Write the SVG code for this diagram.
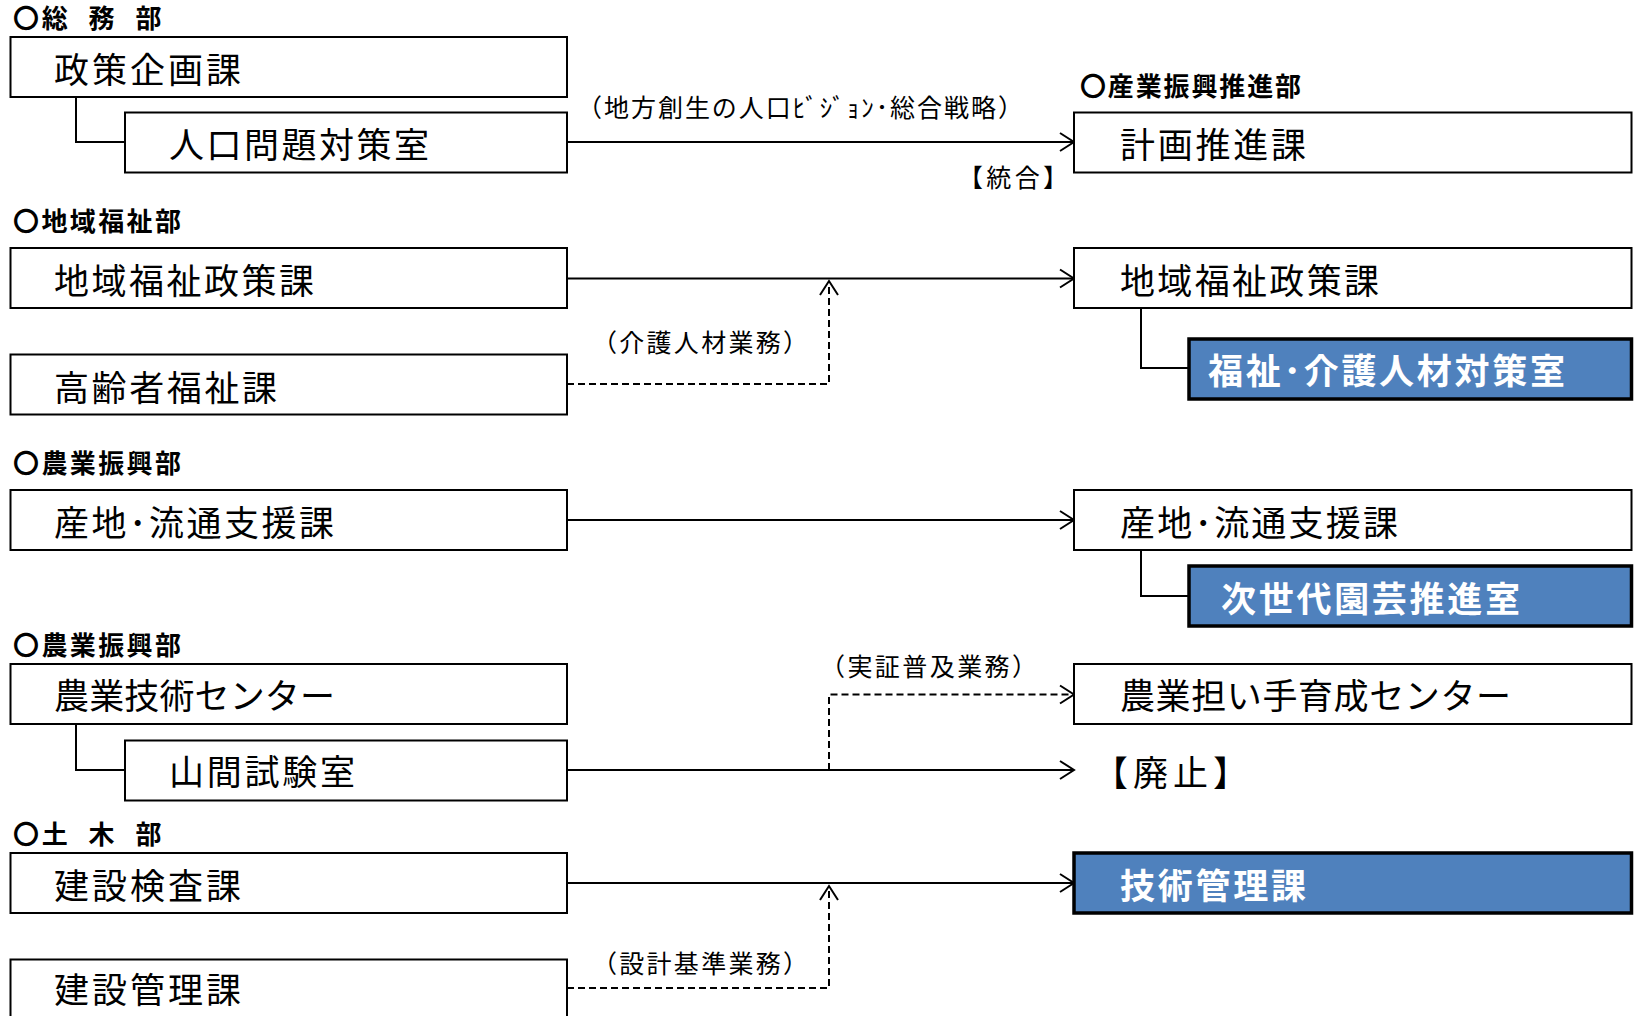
<svg xmlns="http://www.w3.org/2000/svg" width="1635" height="1016" viewBox="0 0 1635 1016">
<style>
.box{fill:#fff;stroke:#000;stroke-width:2}
.blue{fill:#4F81BD;stroke:#000;stroke-width:3.5}
.t{font-family:"Noto Sans CJK JP","Liberation Sans",sans-serif;font-size:35px;fill:#000;dominant-baseline:central}
.tw{font-family:"Noto Sans CJK JP","Liberation Sans",sans-serif;font-size:35px;font-weight:bold;fill:#fff;dominant-baseline:central}
.h{font-family:"Noto Sans CJK JP","Liberation Sans",sans-serif;font-size:26px;font-weight:bold;fill:#000;dominant-baseline:central}
.l{font-family:"Noto Sans CJK JP","Liberation Sans",sans-serif;font-size:25px;fill:#000;dominant-baseline:central}
.c{fill:none;stroke:#000;stroke-width:2}
.d{fill:none;stroke:#000;stroke-width:2;stroke-dasharray:7 4}
</style>
<defs>
<marker id="arr" markerUnits="userSpaceOnUse" markerWidth="20" markerHeight="24" refX="17" refY="12" orient="auto">
<path d="M3,3 L17,12 L3,21" fill="none" stroke="#000" stroke-width="2"/>
</marker>
</defs>

<g id="headers">
<text class="h" x="13 41.7 88.6 135.5" y="16">〇総務部</text>
<text class="h" x="1080" y="84" textLength="221">〇産業振興推進部</text>
<text class="h" x="13" y="219" textLength="168">〇地域福祉部</text>
<text class="h" x="13" y="461" textLength="168">〇農業振興部</text>
<text class="h" x="13" y="643" textLength="168">〇農業振興部</text>
<text class="h" x="13 41.7 88.6 135.5" y="832">〇土木部</text>
</g>

<g id="connectors">
<polyline class="c" points="76,97 76,142 125,142"/>
<line class="c" x1="567" y1="142" x2="1074" y2="142" marker-end="url(#arr)"/>
<line class="c" x1="567" y1="278.5" x2="1074" y2="278.5" marker-end="url(#arr)"/>
<polyline class="d" points="567,384 829,384 829,281" marker-end="url(#arr)"/>
<polyline class="c" points="1141,308 1141,368 1189,368"/>
<line class="c" x1="567" y1="520" x2="1074" y2="520" marker-end="url(#arr)"/>
<polyline class="c" points="1141,550 1141,596 1189,596"/>
<polyline class="c" points="76,724 76,770 125,770"/>
<line class="c" x1="567" y1="770" x2="1074" y2="770" marker-end="url(#arr)"/>
<polyline class="d" points="829,770 829,694.5 1074,694.5" marker-end="url(#arr)"/>
<line class="c" x1="567" y1="883" x2="1074" y2="883" marker-end="url(#arr)"/>
<polyline class="d" points="567,988 829,988 829,886" marker-end="url(#arr)"/>
<text class="l" x="577" y="106" textLength="446">（地方創生の人口ﾋﾞｼﾞｮﾝ･総合戦略）</text>
<text class="l" x="958" y="176" textLength="110">【統合】</text>
<text class="l" x="592" y="341" textLength="216">（介護人材業務）</text>
<text class="l" x="820" y="665" textLength="217">（実証普及業務）</text>
<text class="l" x="592" y="962" textLength="216">（設計基準業務）</text>
</g>

<g id="n-seisaku"><rect class="box" x="10.5" y="37" width="556.5" height="60"/><text class="t" x="54" y="67" textLength="187">政策企画課</text></g>
<g id="n-jinko"><rect class="box" x="125" y="112.5" width="442" height="60"/><text class="t" x="169" y="142" textLength="260">人口問題対策室</text></g>
<g id="n-keikaku"><rect class="box" x="1074" y="112.5" width="557.5" height="60"/><text class="t" x="1120" y="142" textLength="186">計画推進課</text></g>

<g id="n-chiiki-l"><rect class="box" x="10.5" y="248" width="556.5" height="60"/><text class="t" x="54" y="278" textLength="260">地域福祉政策課</text></g>
<g id="n-korei"><rect class="box" x="10.5" y="354.5" width="556.5" height="60"/><text class="t" x="54" y="385" textLength="223">高齢者福祉課</text></g>
<g id="n-chiiki-r"><rect class="box" x="1074" y="248" width="557.5" height="60"/><text class="t" x="1120" y="278" textLength="259">地域福祉政策課</text></g>
<g id="n-fukushi"><rect class="blue" x="1189" y="339" width="442.5" height="60"/><text class="tw" x="1208" y="368" textLength="357">福祉･介護人材対策室</text></g>

<g id="n-sanchi-l"><rect class="box" x="10.5" y="490" width="556.5" height="60"/><text class="t" x="54" y="520" textLength="280">産地･流通支援課</text></g>
<g id="n-sanchi-r"><rect class="box" x="1074" y="490" width="557.5" height="60"/><text class="t" x="1120" y="520" textLength="278">産地･流通支援課</text></g>
<g id="n-jisedai"><rect class="blue" x="1189" y="566" width="442.5" height="60"/><text class="tw" x="1221" y="596" textLength="299">次世代園芸推進室</text></g>

<g id="n-nogyo"><rect class="box" x="10.5" y="664" width="556.5" height="60"/><text class="t" x="54" y="693" textLength="281">農業技術センター</text></g>
<g id="n-sankan"><rect class="box" x="125" y="740.5" width="442" height="60"/><text class="t" x="169" y="769" textLength="186">山間試験室</text></g>
<g id="n-ninaite"><rect class="box" x="1074" y="664" width="557.5" height="60"/><text class="t" x="1120" y="693" textLength="391">農業担い手育成センター</text></g>
<g id="n-haishi"><text class="t" x="1093" y="770" textLength="155">【廃止】</text></g>

<g id="n-kensa"><rect class="box" x="10.5" y="853" width="556.5" height="60"/><text class="t" x="54" y="883" textLength="187">建設検査課</text></g>
<g id="n-gijutsu"><rect class="blue" x="1074" y="853" width="557.5" height="60"/><text class="tw" x="1120" y="883" textLength="186">技術管理課</text></g>
<g id="n-kanri"><rect class="box" x="10.5" y="959.5" width="556.5" height="62"/><text class="t" x="54" y="987" textLength="187">建設管理課</text></g>
</svg>
